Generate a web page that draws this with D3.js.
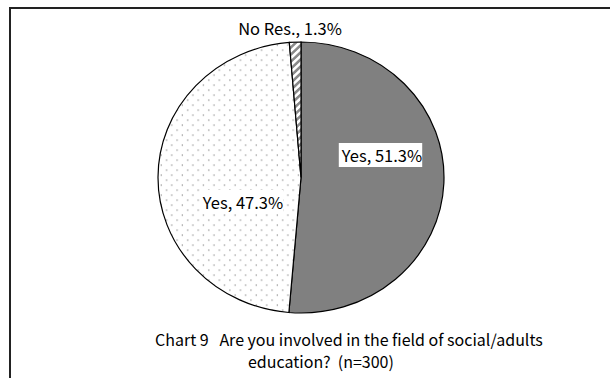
<!DOCTYPE html>
<html>
<head>
<meta charset="utf-8">
<script src="https://cdn.jsdelivr.net/npm/d3@7"></script>
<style>
  html, body { margin: 0; padding: 0; background: #fff; }
  svg { display: block; }
  text { font-family: "Noto Sans CJK JP", "Noto Sans", sans-serif; fill: #000; white-space: pre; }
</style>
</head>
<body>
<svg id="chart" width="610" height="378"></svg>
<script>
// Responses to "Are you involved in the field of social/adults education?"
const categories = ["Yes", "Yes", "No Res."];
const shares = [51.3, 47.3, 1.3];
const fills = ["solid", "dots", "hatch"];
const captionLines = [
  "Chart 9   Are you involved in the field of social/adults",
  "education?  (n=300)"
];

const svg = d3.select("#chart");
const W = 610, H = 378;

// Patterns for the slice fills
const defs = svg.append("defs");
const dots = defs.append("pattern")
  .attr("id", "dots").attr("patternUnits", "userSpaceOnUse")
  .attr("width", 10).attr("height", 10);
dots.append("rect").attr("width", 10).attr("height", 10).attr("fill", "#fff");
dots.append("rect").attr("x", 2).attr("y", 2).attr("width", 1.2).attr("height", 1.2).attr("fill", "#888");
dots.append("rect").attr("x", 7).attr("y", 7).attr("width", 1.2).attr("height", 1.2).attr("fill", "#888");

const hatch = defs.append("pattern")
  .attr("id", "hatch").attr("patternUnits", "userSpaceOnUse")
  .attr("width", 5).attr("height", 5)
  .attr("patternTransform", "rotate(45)");
hatch.append("rect").attr("width", 5).attr("height", 5).attr("fill", "#fff");
hatch.append("rect").attr("width", 2.5).attr("height", 5).attr("fill", "#8a8a8a");

const fillFor = {solid: "#808080", dots: "url(#dots)", hatch: "url(#hatch)"};

// Chart frame (open on the right and bottom)
svg.append("path")
  .attr("d", `M10,${H} L10,8 L${W},8`)
  .attr("fill", "none").attr("stroke", "#222").attr("stroke-width", 2);

// Pie, slightly wider than tall
const cx = 301, cy = 177.5, rx = 143, ry = 135.5;
const pie = d3.pie().sort(null).value(d => d.v);
const data = categories.map((c, i) => ({c, v: shares[i], f: fills[i]}));
const arcs = pie(data);
const arc = d3.arc().innerRadius(0).outerRadius(ry);

const g = svg.append("g")
  .attr("transform", `translate(${cx},${cy}) scale(${rx / ry},1)`);
g.selectAll("path.slice")
  .data(arcs)
  .join("path")
  .attr("class", "slice")
  .attr("d", arc)
  .attr("fill", d => fillFor[d.data.f])
  .attr("stroke", "#000")
  .attr("stroke-width", 1.2)
  .attr("vector-effect", "non-scaling-stroke");

// Data labels: offset from the pie centre
const labelPos = [
  {dx: 81, dy: -22.5, box: true},
  {dx: -58, dy: 24.5, box: true},
  {dx: -11, dy: -149.5, box: false}
];
const labels = svg.append("g");
arcs.forEach((d, i) => {
  const p = labelPos[i];
  const lg = labels.append("g").attr("transform", `translate(${cx + p.dx},${cy + p.dy})`);
  const t = lg.append("text")
    .attr("text-anchor", "middle")
    .attr("dominant-baseline", "central")
    .attr("font-size", 16.5)
    .text(`${d.data.c}, ${d.data.v.toFixed(1)}%`);
  if (p.box) {
    const bb = t.node().getBBox();
    lg.insert("rect", "text")
      .attr("x", bb.x - 2).attr("y", bb.y)
      .attr("width", bb.width + 2).attr("height", bb.height)
      .attr("fill", "#fff");
  }
});

// Caption
svg.append("text").attr("x", 155).attr("y", 346).attr("font-size", 16).text(captionLines[0]);
svg.append("text").attr("x", 248).attr("y", 368).attr("font-size", 16).text(captionLines[1]);
</script>
</body>
</html>
